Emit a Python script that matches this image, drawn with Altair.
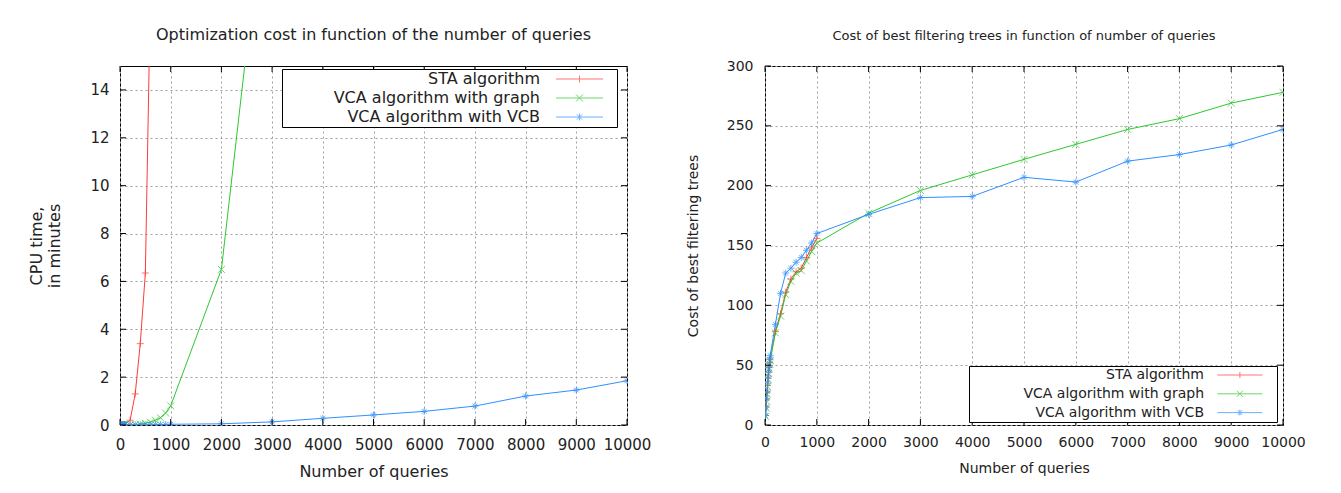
import altair as alt
import pandas as pd

FONT = "DejaVu Sans"
TXT = "#222222"

SERIES = ["STA algorithm", "VCA algorithm with graph", "VCA algorithm with VCB"]
COLORS = ["#ff3b3b", "#2ec82e", "#2f8fff"]

X_FINE = [10, 20, 30, 40, 50, 60, 70, 80, 90, 100]
X_MID = [200, 300, 400, 500, 600, 700, 800, 900, 1000]
X_BIG = [2000, 3000, 4000, 5000, 6000, 7000, 8000, 9000, 10000]

X_TICKS = [0, 1000, 2000, 3000, 4000, 5000, 6000, 7000, 8000, 9000, 10000]
L_Y_TICKS = [0, 2, 4, 6, 8, 10, 12, 14]
R_Y_TICKS = [0, 50, 100, 150, 200, 250, 300]

# Left panel: CPU time in minutes
L_STA_X = X_FINE + [200, 300, 400, 500, 600]
L_STA_Y = [0, 0, 0, 0, 0, 0, 0.01, 0.01, 0.01, 0.02, 0.2, 1.3, 3.4, 6.35, 18.0]
L_GRAPH_X = X_FINE + X_MID + [2000, 3000]
L_GRAPH_Y = [0, 0, 0, 0, 0, 0, 0, 0, 0.01, 0.01,
             0.01, 0.02, 0.04, 0.07, 0.12, 0.2, 0.3, 0.5, 0.8, 6.5, 25.0]
L_VCB_X = X_FINE + X_MID + X_BIG
L_VCB_Y = [0, 0, 0, 0, 0, 0, 0, 0, 0, 0,
           0, 0.01, 0.01, 0.01, 0.01, 0.02, 0.02, 0.02, 0.03,
           0.05, 0.13, 0.28, 0.42, 0.57, 0.79, 1.21, 1.46, 1.85]

# Right panel: cost of best filtering trees
R_STA_X = X_FINE + X_MID
R_STA_Y = [8, 15, 21, 27, 33, 39, 44, 48, 52, 55,
           78, 93, 111, 122, 128, 131, 140, 148, 156]
R_GRAPH_X = X_FINE + X_MID + X_BIG
R_GRAPH_Y = [7, 14, 20, 26, 32, 38, 43, 47, 51, 54,
             77, 91, 109, 120, 127, 129, 137, 145, 152,
             177, 196, 209, 222, 234.5, 247, 256, 269, 278]
R_VCB_X = X_FINE + X_MID + X_BIG
R_VCB_Y = [8, 15, 22, 28, 35, 41, 46, 50, 55, 58,
           84, 110, 127, 131, 136, 140, 146, 152, 160,
           176, 190, 191, 207, 203, 220.5, 226, 234, 247]

MARKERS = [
    "M-1,0H1M0,-1V1",
    "M-1,-1L1,1M-1,1L1,-1",
    "M-1,0H1M0,-1V1M-0.7,-0.7L0.7,0.7M-0.7,0.7L0.7,-0.7",
]


def legend_paths(start, a, b, end, arm):
    """Legend sample: line a..b with marker at its middle, in symbol units."""
    m = (a + b) / 2
    d = arm * 0.75
    bounds = f"M{start:.3f},0M{end:.3f},0"
    line = f"M{a:.3f},0H{b:.3f}"
    plus = f"M{m:.3f},{-arm:.3f}V{arm:.3f}"
    cross = f"M{m - arm:.3f},{-arm:.3f}L{m + arm:.3f},{arm:.3f}M{m - arm:.3f},{arm:.3f}L{m + arm:.3f},{-arm:.3f}"
    star = plus + f"M{m - d:.3f},{-d:.3f}L{m + d:.3f},{d:.3f}M{m - d:.3f},{d:.3f}L{m + d:.3f},{-d:.3f}"
    return [bounds + line + plus, bounds + line + cross, bounds + line + star]


def make_df(xs_list, ys_list):
    rows = []
    for name, xs, ys in zip(SERIES, xs_list, ys_list):
        for q, v in zip(xs, ys):
            rows.append({"q": q, "v": v, "series": name})
    return pd.DataFrame(rows)


def panel(df, W, H, ydom, yticks, title, ytitle, fs, leg):
    xs = alt.Scale(domain=[0, 10000], nice=False, zero=False)
    ys = alt.Scale(domain=ydom, nice=False, zero=False)
    grid = dict(grid=True, gridDash=[2, 3], gridColor="#a0a0a0", gridWidth=1,
                ticks=False, domain=False, labelFont=FONT, titleFont=FONT,
                labelColor=TXT, titleColor=TXT, titleFontWeight="normal")
    x_axis = alt.Axis(values=X_TICKS, format="d", title="Number of queries",
                      labelFontSize=fs["tick"], titleFontSize=fs["axis"],
                      labelPadding=fs["xlp"], titlePadding=fs["xtp"],
                      labelFlush=False, **grid)
    y_axis = alt.Axis(values=yticks, format="d", title=ytitle,
                      labelFontSize=fs["tick"], titleFontSize=fs["axis"],
                      labelPadding=fs["ylp"], titlePadding=fs["ytp"],
                      titleLineHeight=fs["axis"] + 2, labelFlush=False, **grid)
    xe = alt.X("q:Q", scale=xs, axis=x_axis)
    ye = alt.Y("v:Q", scale=ys, axis=y_axis)
    base = alt.Chart(df)

    layers = []
    for s, col in zip(SERIES, COLORS):
        layers.append(
            base.transform_filter(alt.datum.series == s)
            .mark_line(strokeWidth=1, clip=True, color=col)
            .encode(x=xe, y=ye)
        )
    for s, shp, col in zip(SERIES, MARKERS, COLORS):
        layers.append(
            base.transform_filter(alt.datum.series == s)
            .mark_point(shape=shp, filled=False, size=49, strokeWidth=1,
                        color=col, clip=True)
            .encode(x=xe, y=ye)
        )

    TL = 6
    xt = alt.Chart(pd.DataFrame({"q": X_TICKS}))
    yt = alt.Chart(pd.DataFrame({"v": yticks}))
    layers += [
        xt.mark_rule(color="black", strokeWidth=1).encode(x=xe, y=alt.value(H), y2=alt.value(H - TL)),
        xt.mark_rule(color="black", strokeWidth=1).encode(x=xe, y=alt.value(0), y2=alt.value(TL)),
        yt.mark_rule(color="black", strokeWidth=1).encode(y=ye, x=alt.value(0), x2=alt.value(TL)),
        yt.mark_rule(color="black", strokeWidth=1).encode(y=ye, x=alt.value(W - TL), x2=alt.value(W)),
    ]

    # symbol: size 36 -> radius 3 px; its center sits at entry x = c
    r = 3.0
    c = leg["rowh"] / 2.0
    u = lambda px: (px - c) / r
    paths = legend_paths(u(0), u(leg["a"]), u(leg["a"] + leg["len"]),
                         u(leg["a"] + leg["len"] + leg["margin"]), leg["arm"] / r)
    legend = alt.Legend(
        title=None, orient="none", legendX=leg["x"], legendY=leg["y"],
        fillColor="white", strokeColor="black", padding=2,
        labelAlign="right", labelOffset=leg["lo"], symbolOffset=0,
        symbolSize=36, symbolStrokeWidth=1,
        rowPadding=leg["rowpad"], labelFont=FONT,
        labelFontSize=leg["fs"], labelLimit=600, labelColor=TXT,
        labelBaseline="middle",
    )
    leg_layer = base.transform_filter("false").mark_point(
        filled=False, size=36, strokeWidth=1
    ).encode(
        x=xe, y=ye,
        color=alt.Color("series:N", scale=alt.Scale(domain=SERIES, range=COLORS), legend=legend),
        shape=alt.Shape("series:N", scale=alt.Scale(domain=SERIES, range=paths), legend=legend),
    )
    layers.append(leg_layer)

    return alt.layer(*layers).properties(
        width=W, height=H,
        title=alt.TitleParams(title, font=FONT, fontSize=fs["title"], fontWeight="normal",
                              color=TXT, offset=fs["toff"], anchor="middle"),
    )


left_df = make_df([L_STA_X, L_GRAPH_X, L_VCB_X], [L_STA_Y, L_GRAPH_Y, L_VCB_Y])
right_df = make_df([R_STA_X, R_GRAPH_X, R_VCB_X], [R_STA_Y, R_GRAPH_Y, R_VCB_Y])

left = panel(
    left_df, 507, 359, [0, 15], L_Y_TICKS,
    "Optimization cost in function of the number of queries",
    ["CPU time,", "in minutes"],
    dict(tick=15, axis=16, title=16, xlp=12, xtp=11, ylp=11, ytp=27, toff=23),
    dict(x=162, y=3, lo=240, rowh=16, rowpad=3, fs=16, a=272, len=47, margin=10, arm=3.5),
)
right = panel(
    right_df, 518, 359, [0, 300], R_Y_TICKS,
    "Cost of best filtering trees in function of number of queries",
    "Cost of best filtering trees",
    dict(tick=14, axis=14, title=13, xlp=10, xtp=12, ylp=12, ytp=26, toff=16),
    dict(x=204, y=300, lo=219, rowh=14, rowpad=4.8, fs=14, a=246.4, len=45, margin=10, arm=3),
)

chart = alt.hconcat(left, right, spacing=33).resolve_scale(
    x="independent", y="independent", color="independent", shape="independent"
).properties(
    padding={"left": 20, "top": 18, "right": 5, "bottom": 5}
).configure(font=FONT).configure_view(stroke="black", strokeWidth=1)

chart.save("out.html", embed_options={"renderer": "svg", "actions": False})
